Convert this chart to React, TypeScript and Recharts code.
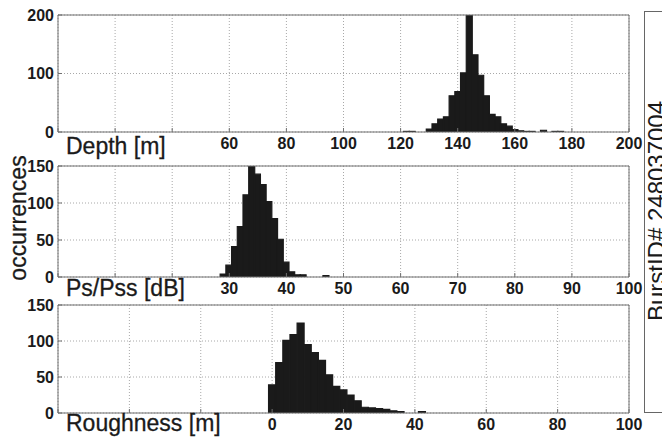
import { ComposedChart, Bar, XAxis, YAxis, CartesianGrid } from 'recharts';

// Depth histogram (2 m bins, centre values)
const depthBins = [122, 124, 130, 132, 134, 136, 138, 140, 142, 144, 146, 148, 150, 152, 154, 156, 158, 160, 162, 164, 166, 170, 174, 176];
const depthCounts = [1, 1, 5, 14, 22, 26, 62, 69, 101, 203, 132, 97, 62, 30, 26, 14, 10, 4, 2, 1, 1, 3, 1, 1];
const depthTicks = [0, 20, 40, 60, 80, 100, 120, 140, 160, 180, 200];
const depthTickLabels = ['', '', '', '60', '80', '100', '120', '140', '160', '180', '200'];
const depthCountTicks = [0, 100, 200];

// Ps/Pss histogram (1 dB bins)
const psBins = [28.9, 29.9, 30.9, 31.9, 32.9, 33.9, 34.9, 35.9, 36.9, 37.9, 38.9, 39.9, 40.9, 41.9, 42.9, 46.9];
const psCounts = [4, 16, 41, 68, 111, 150, 139, 125, 102, 79, 51, 20, 7, 3, 3, 2];
const psTicks = [0, 10, 20, 30, 40, 50, 60, 70, 80, 90, 100];
const psTickLabels = ['', '', '', '30', '40', '50', '60', '70', '80', '90', '100'];
const psCountTicks = [0, 50, 100, 150];

// Roughness histogram (2 m bins)
const roughBins = [0, 2, 4, 6, 8, 10, 12, 14, 16, 18, 20, 22, 24, 26, 28, 30, 32, 34, 36, 42];
const roughCounts = [39, 70, 101, 109, 125, 95, 84, 73, 53, 37, 32, 25, 17, 8, 7, 6, 5, 3, 2, 2];
const roughTicks = [-60, -40, -20, 0, 20, 40, 60, 80, 100];
const roughTickLabels = ['', '', '', '0', '20', '40', '60', '80', '100'];
const roughCountTicks = [0, 50, 100, 150];

const FONT = '"Liberation Sans", Arial, Helvetica, sans-serif';
const INK = '#1a1a1a';
const FRAME = '#707070';
const W = 662;
const PLOT_LEFT = 58;
const PLOT_W = 571;

interface PanelProps {
  bins: number[];
  counts: number[];
  xDomain: [number, number];
  xTicks: number[];
  xTickLabels: string[];
  yMax: number;
  yTicks: number[];
  xLabel: string;
  top: number;
  height: number;
  plotTop: number;
  xAxisHeight: number;
}

function HistPanel(p: PanelProps) {
  const data = p.bins.map((x, i) => ({ x, count: p.counts[i] }));
  const tickStyle = { fontSize: 16, fontWeight: 'bold', fill: INK, fontFamily: FONT };

  return (
    <div style={{ position: 'absolute', left: 0, top: p.top }}>
      <ComposedChart
        width={W}
        height={p.height}
        data={data}
        barCategoryGap={0}
        barGap={0}
        margin={{ top: p.plotTop - 1, right: W - PLOT_LEFT - PLOT_W - 1, bottom: 0, left: 0 }}
      >
        <CartesianGrid xAxisId="b" yAxisId="l" stroke="#a8a8a8" strokeDasharray="1 2" />
        <XAxis
          xAxisId="b"
          type="number"
          dataKey="x"
          domain={p.xDomain}
          allowDataOverflow
          ticks={p.xTicks}
          interval={0}
          tickFormatter={(_v: number, i: number) => p.xTickLabels[i]}
          tickSize={-4}
          tickMargin={10}
          tick={tickStyle}
          height={p.xAxisHeight}
          axisLine={{ stroke: FRAME }}
          tickLine={{ stroke: FRAME }}
          label={{
            value: p.xLabel,
            position: 'insideBottomLeft',
            offset: 6,
            dx: 2,
            fontSize: 23,
            fill: INK,
            stroke: INK,
            strokeWidth: 0.3,
            fontFamily: FONT,
          }}
        />
        <XAxis
          xAxisId="t"
          orientation="top"
          type="number"
          domain={p.xDomain}
          allowDataOverflow
          ticks={p.xTicks}
          interval={0}
          tick={false}
          tickSize={-4}
          height={1}
          axisLine={{ stroke: FRAME }}
          tickLine={{ stroke: FRAME }}
        />
        <YAxis
          yAxisId="l"
          type="number"
          domain={[0, p.yMax]}
          allowDataOverflow
          ticks={p.yTicks}
          interval={0}
          tickSize={-4}
          tickMargin={8}
          tick={tickStyle}
          width={PLOT_LEFT}
          axisLine={{ stroke: FRAME }}
          tickLine={{ stroke: FRAME }}
        />
        <YAxis
          yAxisId="r"
          orientation="right"
          type="number"
          domain={[0, p.yMax]}
          allowDataOverflow
          ticks={p.yTicks}
          interval={0}
          tick={false}
          tickSize={-4}
          width={1}
          axisLine={{ stroke: FRAME }}
          tickLine={{ stroke: FRAME }}
        />
        <Bar
          xAxisId="b"
          yAxisId="l"
          dataKey="count"
          fill={INK}
          stroke={INK}
          strokeWidth={1.2}
          isAnimationActive={false}
        />
      </ComposedChart>
    </div>
  );
}

export default function App() {
  return (
    <div style={{ position: 'absolute', left: 0, top: 0, width: W, height: 437, background: '#fff', fontFamily: FONT }}>
      <HistPanel
        bins={depthBins}
        counts={depthCounts}
        xDomain={[0, 200]}
        xTicks={depthTicks}
        xTickLabels={depthTickLabels}
        yMax={200}
        yTicks={depthCountTicks}
        xLabel="Depth [m]"
        top={0}
        height={160}
        plotTop={15}
        xAxisHeight={28}
      />
      <HistPanel
        bins={psBins}
        counts={psCounts}
        xDomain={[0, 100]}
        xTicks={psTicks}
        xTickLabels={psTickLabels}
        yMax={150}
        yTicks={psCountTicks}
        xLabel="Ps/Pss [dB]"
        top={150}
        height={152}
        plotTop={16}
        xAxisHeight={25}
      />
      <HistPanel
        bins={roughBins}
        counts={roughCounts}
        xDomain={[-60, 100]}
        xTicks={roughTicks}
        xTickLabels={roughTickLabels}
        yMax={150}
        yTicks={roughCountTicks}
        xLabel="Roughness [m]"
        top={290}
        height={147}
        plotTop={15}
        xAxisHeight={24}
      />
      <svg width={W} height={437} style={{ position: 'absolute', left: 0, top: 0, pointerEvents: 'none' }}>
        <text
          x={26}
          y={218}
          transform="rotate(-90 26 218)"
          textAnchor="middle"
          fontSize={23}
          fill={INK}
          stroke={INK}
          strokeWidth={0.3}
          fontFamily={FONT}
        >
          occurrences
        </text>
        <rect x={644.5} y={11.5} width={30} height={401} fill="none" stroke="#666" />
        <text
          x={665}
          y={211}
          transform="rotate(-90 665 211)"
          textAnchor="middle"
          fontSize={24}
          fill={INK}
          fontFamily={FONT}
        >
          BurstID# 248037004
        </text>
      </svg>
    </div>
  );
}
